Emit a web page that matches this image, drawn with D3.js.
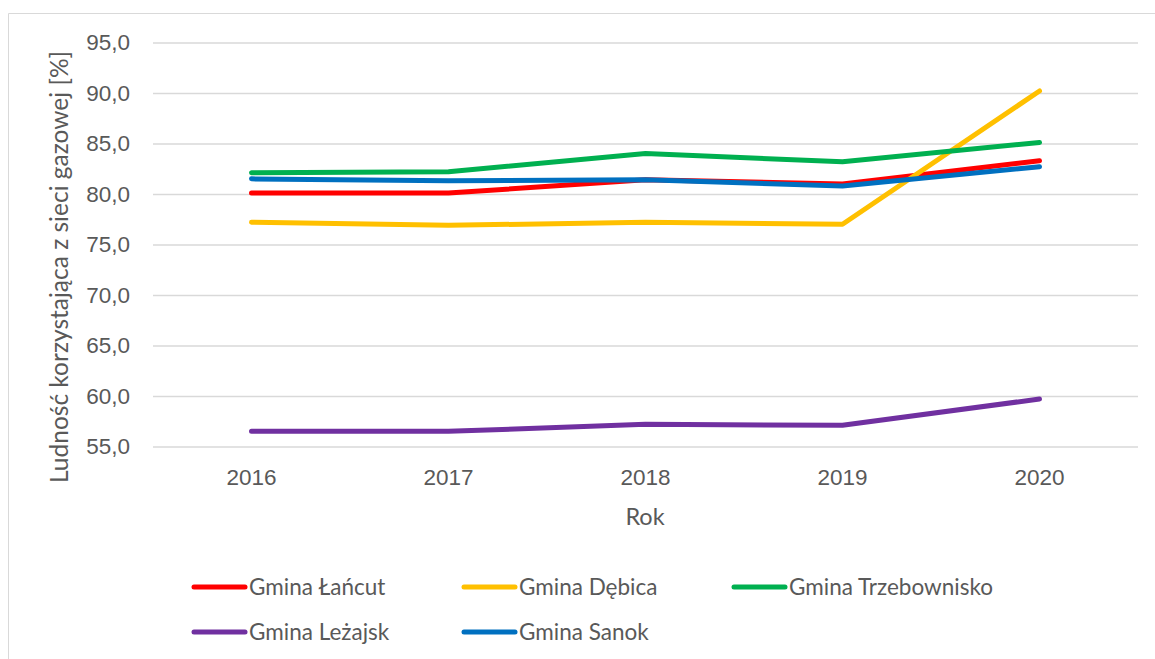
<!DOCTYPE html>
<html>
<head>
<meta charset="utf-8">
<script src="https://cdn.jsdelivr.net/npm/d3@7"></script>
<style>
  html, body { margin: 0; padding: 0; background: #fff; }
  svg { display: block; font-family: Lato, "Open Sans", sans-serif; }
</style>
</head>
<body>
<div class="chart"></div>
<script>
const years = ["2016", "2017", "2018", "2019", "2020"];
const names = ["Gmina Łańcut", "Gmina Dębica", "Gmina Trzebownisko", "Gmina Leżajsk", "Gmina Sanok"];
const lancut = [80.1, 80.1, 81.4, 81.0, 83.3];
const debica = [77.2, 76.9, 77.2, 77.0, 90.2];
const trzebownisko = [82.1, 82.2, 84.0, 83.2, 85.1];
const lezajsk = [56.5, 56.5, 57.2, 57.1, 59.7];
const sanok = [81.5, 81.3, 81.4, 80.8, 82.7];
const yTicks = [55, 60, 65, 70, 75, 80, 85, 90, 95];

const colors = ["#ff0000", "#ffc000", "#00b050", "#7030a0", "#0070c0"];
const seriesValues = [lancut, debica, trzebownisko, lezajsk, sanok];
const series = names.map((n, i) => ({ name: n, color: colors[i], values: seriesValues[i] }));

const W = 1155, H = 659;
const plot = { left: 153, right: 1138, top: 42.5, bottom: 446.5 };
const textColor = "#595959";
const fontSize = "22.5px";

const svg = d3.select(".chart").append("svg")
  .attr("width", W).attr("height", H);

// chart frame (only left/top visible in the crop)
svg.append("path")
  .attr("d", `M8.5,${H} V13.5 H${W}`)
  .attr("fill", "none")
  .attr("stroke", "#d9d9d9")
  .attr("stroke-width", 1);

const x = d3.scaleBand().domain(years).range([plot.left, plot.right]);
const y = d3.scaleLinear().domain([55, 95]).range([plot.bottom, plot.top]);

// grid + y labels
const yAxis = svg.append("g")
  .attr("transform", `translate(${plot.left},0)`)
  .call(d3.axisLeft(y).tickValues(yTicks).tickSize(0).tickPadding(23)
    .tickFormat(d => d3.format(".1f")(d).replace(".", ",")))
  .call(g => g.select(".domain").remove());
yAxis.selectAll(".tick text")
  .attr("fill", textColor).attr("font-size", fontSize);
yAxis.selectAll(".tick").append("line")
  .attr("x2", plot.right - plot.left)
  .attr("stroke", "#d9d9d9").attr("stroke-width", 1.3);

// x labels
const xAxis = svg.append("g")
  .attr("transform", `translate(0,${plot.bottom})`)
  .call(d3.axisBottom(x).tickSize(0).tickPadding(23))
  .call(g => g.select(".domain").remove());
xAxis.selectAll(".tick text")
  .attr("fill", textColor).attr("font-size", fontSize);

// lines
const line = d3.line()
  .x((d, i) => x(years[i]) + x.bandwidth() / 2)
  .y(d => y(d));

svg.append("g").selectAll("path")
  .data(series)
  .join("path")
    .attr("d", d => line(d.values))
    .attr("fill", "none")
    .attr("stroke", d => d.color)
    .attr("stroke-width", 5)
    .attr("stroke-linecap", "round")
    .attr("stroke-linejoin", "round");

// axis titles
svg.append("text")
  .attr("transform", "translate(68,267) rotate(-90)")
  .attr("text-anchor", "middle")
  .attr("fill", textColor)
  .attr("font-size", "24.5px")
  .text("Ludność korzystająca z sieci gazowej [%]");

svg.append("text")
  .attr("x", 645).attr("y", 525)
  .attr("text-anchor", "middle")
  .attr("fill", textColor)
  .attr("font-size", "23.5px")
  .text("Rok");

// legend
const legendCols = [192, 462, 732];
const legendRows = [587, 632];
const legend = svg.append("g").selectAll("g")
  .data(series)
  .join("g")
    .attr("transform", (d, i) => `translate(${legendCols[i % 3]},${legendRows[Math.floor(i / 3)]})`);

legend.append("line")
  .attr("x1", 2).attr("x2", 53)
  .attr("stroke", d => d.color)
  .attr("stroke-width", 5)
  .attr("stroke-linecap", "round");

legend.append("text")
  .attr("x", 57).attr("y", 0)
  .attr("dy", "0.35em")
  .attr("fill", textColor)
  .attr("font-size", fontSize)
  .text(d => d.name);
</script>
</body>
</html>
